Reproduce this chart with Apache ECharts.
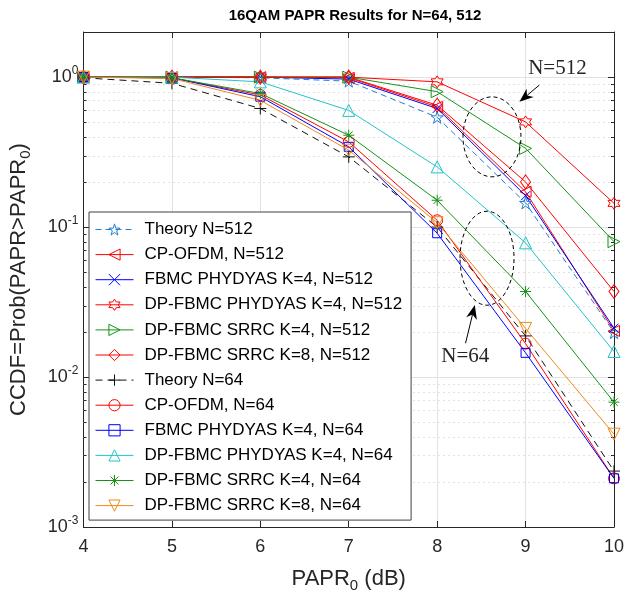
<!DOCTYPE html>
<html><head><meta charset="utf-8">
<script src="https://cdn.jsdelivr.net/npm/echarts@6/dist/echarts.min.js"></script>
<style>html,body{margin:0;padding:0;background:#fff}#c{width:627px;height:598px}</style>
</head><body><div id="c"></div>
<script>
// ---- data ----
const xValues = [4, 5, 6, 7, 8, 9, 10];
const theory512   = [1.0, 1.0, 0.99, 0.94, 0.54, 0.145, 0.0198];
const cp512       = [1.0, 1.0, 1.0, 0.99, 0.634, 0.172, 0.0203];
const fbmc512     = [1.0, 1.0, 1.0, 0.97, 0.618, 0.162, 0.0212];
const dpPhy512    = [1.0, 1.0, 1.0, 1.0, 0.93, 0.503, 0.144];
const dpSrrc4_512 = [1.0, 1.0, 1.0, 1.0, 0.80, 0.335, 0.080];
const dpSrrc8_512 = [1.0, 1.0, 1.0, 1.0, 0.65, 0.20, 0.0372];
const theory64    = [0.99, 0.91, 0.618, 0.294, 0.100, 0.0188, 0.00236];
const cp64        = [1.0, 0.99, 0.76, 0.37, 0.111, 0.0167, 0.00211];
const fbmc64      = [1.0, 0.99, 0.74, 0.343, 0.091, 0.0145, 0.00211];
const dpPhy64     = [1.0, 1.0, 0.93, 0.60, 0.252, 0.0785, 0.0148];
const dpSrrc4_64  = [1.0, 0.99, 0.778, 0.41, 0.151, 0.0372, 0.0068];
const dpSrrc8_64  = [1.0, 0.98, 0.70, 0.326, 0.107, 0.0211, 0.00416];
const seriesNames = [
  'Theory N=512', 'CP-OFDM, N=512', 'FBMC PHYDYAS K=4, N=512',
  'DP-FBMC PHYDYAS K=4, N=512', 'DP-FBMC SRRC K=4, N=512', 'DP-FBMC SRRC K=8, N=512',
  'Theory N=64', 'CP-OFDM, N=64', 'FBMC PHYDYAS K=4, N=64',
  'DP-FBMC PHYDYAS K=4, N=64', 'DP-FBMC SRRC K=4, N=64', 'DP-FBMC SRRC K=8, N=64'
];
const seriesValues = [theory512, cp512, fbmc512, dpPhy512, dpSrrc4_512, dpSrrc8_512,
  theory64, cp64, fbmc64, dpPhy64, dpSrrc4_64, dpSrrc8_64];
const xTickValues = [4, 5, 6, 7, 8, 9, 10];
const yMinorValues = [];
[0.001, 0.01, 0.1].forEach(d => { for (let k = 2; k <= 9; k++) yMinorValues.push(+(d * k).toPrecision(3)); });
const titleText = '16QAM PAPR Results for N=64, 512';
const annotationTexts = ['N=512', 'N=64'];

// ---- styles ----
const SANS = 'Liberation Sans';
const SERIF = 'Liberation Serif';
const P_STAR = 'path://M50,0L61.2,34.5L97.6,34.5L68.2,55.9L79.4,90.5L50,69.1L20.6,90.5L31.8,55.9L2.4,34.5L38.8,34.5Z';
const P_HEX = 'path://M50,0L64.4,25L93.3,25L78.9,50L93.3,75L64.4,75L50,100L35.6,75L6.7,75L21.1,50L6.7,25L35.6,25Z';
const P_LEFT = 'path://M0,50L90,0L90,100Z';
const P_RIGHT = 'path://M90,50L0,0L0,100Z';
const P_DOWN = 'path://M0,0L100,0L50,90Z';
const P_UP = 'path://M50,0L100,90L0,90Z';
const P_X = 'path://M0,0L100,100M100,0L0,100';
const P_PLUS = 'path://M50,0L50,100M0,50L100,50';
const P_AST = 'path://M50,0L50,100M0,50L100,50M15,15L85,85M85,15L15,85';
const styles = [
  {c:'#1f80d0', s:P_STAR, z:12, dash:[6,4]},
  {c:'#ff0000', s:P_LEFT, z:11},
  {c:'#0000ff', s:P_X, z:9},
  {c:'#ff0000', s:P_HEX, z:12},
  {c:'#159315', s:P_RIGHT, z:12},
  {c:'#ff0000', s:'diamond', z:[10,14]},
  {c:'#111111', s:P_PLUS, z:12, dash:[7,5]},
  {c:'#ff0000', s:'circle', z:11},
  {c:'#0000ff', s:'rect', z:9},
  {c:'#22c4c8', s:P_UP, z:12},
  {c:'#159315', s:P_AST, z:11},
  {c:'#ee8a1a', s:P_DOWN, z:12}
];

const series = seriesNames.map((name, i) => ({
  name, type: 'line', z: 3,
  data: xValues.map((x, j) => [x, seriesValues[i][j]]),
  symbol: styles[i].s, symbolSize: styles[i].z, showSymbol: true,
  lineStyle: {color: styles[i].c, width: 1, type: styles[i].dash || 'solid'},
  itemStyle: {color: 'rgba(0,0,0,0)', borderColor: styles[i].c, borderWidth: 1},
  emphasis: {disabled: true}, animation: false
}));

// minor grid + minor ticks
series.unshift({
  type: 'custom', silent: true, z: 1, animation: false,
  data: yMinorValues.map(v => [xTickValues[0], v]),
  renderItem(params, api) {
    const v = api.value(1);
    const a = api.coord([xTickValues[0], v]);
    const b = api.coord([xTickValues[xTickValues.length - 1], v]);
    const y = Math.round(a[1]) + 0.5;
    return {type: 'group', children: [
      {type: 'line', shape: {x1: a[0], y1: y, x2: b[0], y2: y}, style: {stroke: '#c4c4c4', lineWidth: 1, lineDash: [1, 4]}},
      {type: 'line', shape: {x1: a[0], y1: y, x2: a[0] + 3, y2: y}, style: {stroke: '#262626', lineWidth: 1}},
      {type: 'line', shape: {x1: b[0] - 3, y1: y, x2: b[0], y2: y}, style: {stroke: '#262626', lineWidth: 1}}
    ]};
  }
});

const yFmt = v => {
  const e = Math.log10(v), r = Math.round(e);
  if (Math.abs(e - r) > 1e-6) return '';
  return '{b|10}{s|' + r + '}';
};

const chart = echarts.init(document.getElementById('c'));
const option = {
  animation: false,
  backgroundColor: '#fff',
  title: {text: titleText, left: 350, textAlign: 'center', top: 3,
    textStyle: {fontFamily: SANS, fontSize: 15, fontWeight: 'bold', color: '#000'}},
  grid: {left: 82, right: 10, top: 32, bottom: 71},
  legend: {
    data: seriesNames, orient: 'vertical', left: 89, top: 212,
    padding: [9, 9, 6, 6], itemGap: 8.1, itemWidth: 38, itemHeight: 14,
    backgroundColor: '#fff', borderColor: '#404040', borderWidth: 1,
    lineStyle: {width: 1}, itemStyle: {borderWidth: 1},
    textStyle: {fontFamily: SANS, fontSize: 17, color: '#000', padding: [0, 0, 0, 6]},
    selectedMode: false
  },
  xAxis: [
    {type: 'value', min: 4, max: 10, interval: 1, position: 'bottom',
      name: 'PAPR{sub|0} (dB)', nameLocation: 'middle', nameGap: 37,
      nameTextStyle: {fontFamily: SANS, fontSize: 22, color: '#262626',
        rich: {sub: {fontFamily: SANS, fontSize: 15, color: '#262626', padding: [14, 0, 0, 0]}}},
      axisLine: {lineStyle: {color: '#262626'}},
      axisTick: {inside: true, length: 6, lineStyle: {color: '#262626'}},
      axisLabel: {margin: 11, fontFamily: SANS, fontSize: 18, color: '#262626'},
      splitLine: {show: true, lineStyle: {color: '#e2e2e2'}}},
    {type: 'value', min: 4, max: 10, interval: 1, position: 'top',
      axisLine: {lineStyle: {color: '#262626'}},
      axisTick: {inside: true, length: 6, lineStyle: {color: '#262626'}},
      axisLabel: {show: false}, splitLine: {show: false}}
  ],
  yAxis: [
    {type: 'log', logBase: 10, min: 0.001, max: 2, position: 'left',
      name: 'CCDF=Prob(PAPR>PAPR{sub|0})', nameLocation: 'middle', nameGap: 50, nameRotate: 90,
      nameTextStyle: {fontFamily: SANS, fontSize: 22, color: '#262626',
        rich: {sub: {fontFamily: SANS, fontSize: 15, color: '#262626', padding: [14, 0, 0, 0]}}},
      axisLine: {lineStyle: {color: '#262626'}},
      axisTick: {inside: true, length: 6, lineStyle: {color: '#262626'}},
      axisLabel: {margin: 5, showMaxLabel: false, formatter: yFmt, color: '#262626',
        rich: {b: {fontFamily: SANS, fontSize: 18, color: '#262626'},
               s: {fontFamily: SANS, fontSize: 12, color: '#262626', padding: [0, 0, 13, 0]}}},
      splitLine: {show: true, lineStyle: {color: '#e2e2e2'}}},
    {type: 'log', logBase: 10, min: 0.001, max: 2, position: 'right',
      axisLine: {lineStyle: {color: '#262626'}},
      axisTick: {inside: true, length: 6, lineStyle: {color: '#262626'}},
      axisLabel: {show: false}, splitLine: {show: false}}
  ],
  series
};
chart.setOption(option);

// ---- annotations anchored in data space ----
const ellipses = [
  {c: [8.62, 0.40], rx: 29, ry: 40},
  {c: [8.564, 0.062], rx: 27, ry: 47}
];
const arrows = [
  {from: [9.155, 0.885], to: [8.931, 0.684]},
  {from: [8.321, 0.0168], to: [8.426, 0.0302]}
];
const labels = [
  {p: [9.36, 1.15], text: annotationTexts[0]},
  {p: [8.318, 0.0138], text: annotationTexts[1]}
];
const px = d => chart.convertToPixel({xAxisIndex: 0, yAxisIndex: 0}, d);
const g = [];
ellipses.forEach(e => {
  const c = px(e.c);
  g.push({type: 'ellipse', shape: {cx: c[0], cy: c[1], rx: e.rx, ry: e.ry},
    style: {fill: 'none', stroke: '#000', lineWidth: 1, lineDash: [4, 3]}, z: 20, silent: true});
});
arrows.forEach(a => {
  const s = px(a.from), t = px(a.to);
  const dx = t[0] - s[0], dy = t[1] - s[1], L = Math.hypot(dx, dy);
  const ux = dx / L, uy = dy / L, nx = -uy, ny = ux;
  const HL = 14, HW = 5.5;
  const bx = t[0] - ux * HL, by = t[1] - uy * HL;
  const mx = t[0] - ux * HL * 0.7, my = t[1] - uy * HL * 0.7;
  g.push({type: 'line', shape: {x1: s[0], y1: s[1], x2: mx, y2: my}, style: {stroke: '#000', lineWidth: 1}, z: 20, silent: true});
  g.push({type: 'polygon', shape: {points: [[t[0], t[1]], [bx + nx * HW, by + ny * HW], [mx, my], [bx - nx * HW, by - ny * HW]]},
    style: {fill: '#000'}, z: 20, silent: true});
});
labels.forEach(l => {
  const p = px(l.p);
  g.push({type: 'text', x: p[0], y: p[1], style: {text: l.text, fontFamily: SERIF, fontSize: 21, fill: '#262626', align: 'center', verticalAlign: 'middle'}, z: 20, silent: true});
});
chart.setOption({graphic: g});
</script></body></html>
